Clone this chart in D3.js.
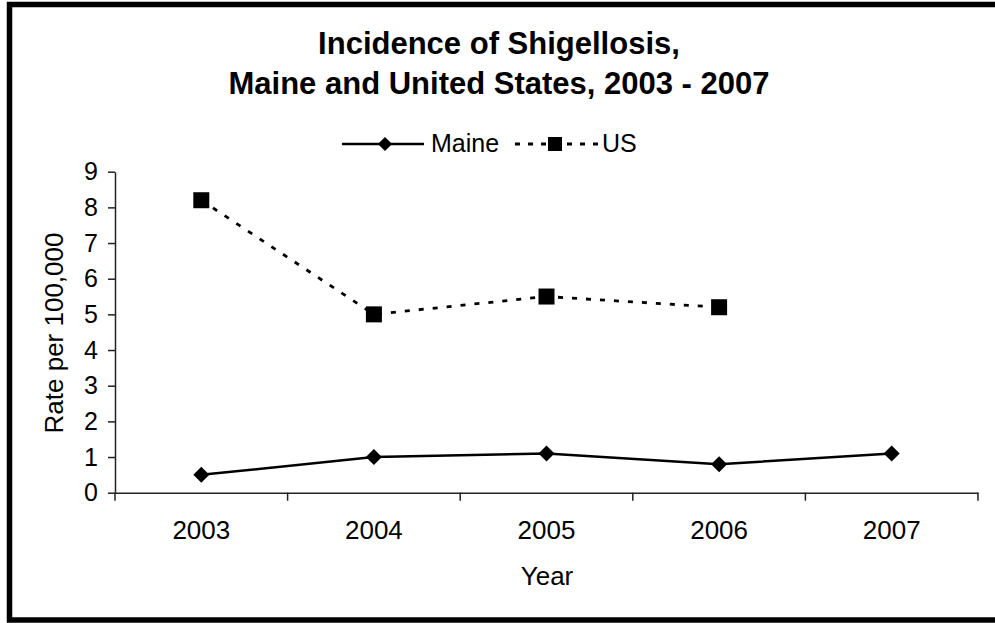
<!DOCTYPE html>
<html><head><meta charset="utf-8">
<script src="https://cdn.jsdelivr.net/npm/d3@7"></script>
<style>body{margin:0;background:#fff}svg{display:block}text{font-family:"Liberation Sans",Arial,sans-serif;fill:#000}</style>
</head><body><div id="c"></div>
<script>
const years = ["2003","2004","2005","2006","2007"];
const maine = [0.5, 1.0, 1.1, 0.8, 1.1];
const us = [8.2, 5.0, 5.5, 5.2, null];
const yTicks = [0,1,2,3,4,5,6,7,8,9];
const titleLines = ["Incidence of Shigellosis,", "Maine and United States, 2003 - 2007"];

const W = 995, H = 623;
const svg = d3.select("#c").append("svg").attr("width", W).attr("height", H);

// frame
svg.append("rect").attr("x", 9.5).attr("y", 4.5).attr("width", 1000).attr("height", 615.5)
  .attr("fill", "none").attr("stroke", "#000").attr("stroke-width", 5.5);

const x0 = 115, x1 = 978, yTop = 171.7, yBot = 492.7;
const x = d3.scaleBand().domain(years).range([x0, x1]);
const y = d3.scaleLinear().domain([0, 9]).range([yBot, yTop]);
const cx = d => x(d) + x.bandwidth() / 2;

// title
svg.selectAll("text.title").data(titleLines).join("text").attr("class", "title")
  .attr("x", 499).attr("y", (d, i) => 54 + i * 40).attr("text-anchor", "middle")
  .attr("font-size", 31).attr("font-weight", "bold").text(d => d);

// axes
const gy = svg.append("g").attr("transform", `translate(${x0},0)`)
  .call(d3.axisLeft(y).tickValues(yTicks).tickFormat(d3.format("d")).tickSize(7).tickSizeOuter(0).tickPadding(10));
const gx = svg.append("g").attr("transform", `translate(0,${yBot})`)
  .call(d3.axisBottom(x).tickSize(0).tickPadding(28));
// band boundary ticks
const bounds = years.map(d => x(d)).concat([x1]);
gx.selectAll("line.bt").data(bounds).join("line").attr("class", "bt")
  .attr("x1", d => d).attr("x2", d => d).attr("y1", 0).attr("y2", 8).attr("stroke", "#222").attr("stroke-width", 1.5);
[gx, gy].forEach(g => {
  g.select(".domain").attr("stroke", "#222").attr("stroke-width", 1.5);
  g.selectAll(".tick line").attr("stroke", "#222").attr("stroke-width", 1.5);
  g.selectAll("text").attr("font-size", 25).attr("fill", "#000").attr("font-family", "Liberation Sans, Arial, sans-serif");
});
gx.selectAll("text").attr("font-size", 26);

// axis titles
svg.append("text").attr("x", 547).attr("y", 585).attr("text-anchor", "middle").attr("font-size", 26).text("Year");
svg.append("text").attr("transform", "translate(63,333) rotate(-90)").attr("text-anchor", "middle")
  .attr("font-size", 26).text("Rate per 100,000");

// lines
const usPts = years.map((d, i) => ({ k: d, v: us[i] })).filter(p => p.v != null);
const mePts = years.map((d, i) => ({ k: d, v: maine[i] }));
const line = d3.line().x(p => cx(p.k)).y(p => y(p.v));
svg.append("path").datum(usPts).attr("d", line).attr("fill", "none").attr("stroke", "#000")
  .attr("stroke-width", 2.8).attr("stroke-dasharray", "5,9");
svg.append("path").datum(mePts).attr("d", line).attr("fill", "none").attr("stroke", "#000").attr("stroke-width", 2.5);

const diamond = d3.symbol().type(d3.symbolSquare).size(128);
svg.selectAll("path.me").data(mePts).join("path").attr("class", "me")
  .attr("d", diamond).attr("transform", p => `translate(${cx(p.k)},${y(p.v)}) rotate(45)`).attr("fill", "#000");
svg.selectAll("rect.us").data(usPts).join("rect").attr("class", "us")
  .attr("x", p => cx(p.k) - 8).attr("y", p => y(p.v) - 8).attr("width", 16).attr("height", 16).attr("fill", "#000");

// legend
const lg = svg.append("g");
lg.append("line").attr("x1", 342).attr("x2", 424).attr("y1", 144).attr("y2", 144).attr("stroke", "#000").attr("stroke-width", 2.5);
lg.append("path").attr("d", d3.symbol().type(d3.symbolSquare).size(100)).attr("transform", "translate(385,144) rotate(45)").attr("fill", "#000");
lg.append("text").attr("x", 431).attr("y", 152).attr("font-size", 25).text("Maine");
lg.append("line").attr("x1", 515).attr("x2", 600).attr("y1", 144).attr("y2", 144).attr("stroke", "#000")
  .attr("stroke-width", 2.8).attr("stroke-dasharray", "5,8");
lg.append("rect").attr("x", 548).attr("y", 137).attr("width", 14).attr("height", 14).attr("fill", "#000");
lg.append("text").attr("x", 602).attr("y", 152).attr("font-size", 25).text("US");
</script></body></html>
